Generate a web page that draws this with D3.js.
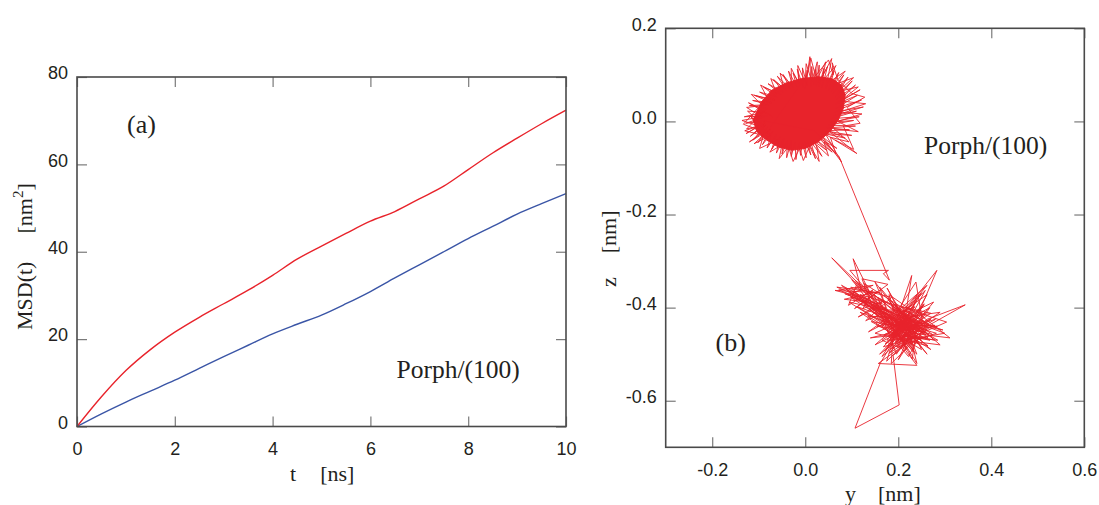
<!DOCTYPE html>
<html><head><meta charset="utf-8">
<script src="https://cdn.jsdelivr.net/npm/d3@7"></script>
<style>
html,body{margin:0;padding:0;background:#fff;}
svg{display:block;}
.tick text{font-family:"Liberation Sans",Arial,sans-serif;font-size:18px;fill:#231f20;}
.serif{font-family:"Liberation Serif","Times New Roman",serif;fill:#231f20;}
</style></head>
<body>
<script>
// ---------- Panel (a) data ----------
const timeNs = [0,0.5,1,1.5,2,2.5,3,3.5,4,4.5,5,5.5,6,6.5,7,7.5,8,8.5,9,9.5,10];
const msdRed = [0,6.8,12.8,17.6,21.6,25.0,28.1,31.2,34.6,38.3,41.3,44.2,47.0,49.2,52.1,55.0,58.8,62.6,66.0,69.3,72.4];
const msdBlue = [0,2.9,5.6,8.1,10.6,13.3,16.0,18.6,21.2,23.4,25.5,28.1,30.9,34.0,37.0,40.0,43.0,45.8,48.6,51.0,53.3];
const xTicksA = [0,2,4,6,8,10];
const yTicksA = [0,20,40,60,80];

// ---------- Panel (b) data ----------
const xTicksB = [-0.2,0.0,0.2,0.4,0.6];
const yTicksB = [0.2,0.0,-0.2,-0.4,-0.6];
// dense core of the first site (outline of the saturated region)
const site1Core = [[-0.112,0.003],[-0.094,0.042],[-0.072,0.067],[-0.043,0.082],[-0.008,0.092],[0.028,0.096],[0.057,0.092],[0.078,0.078],[0.086,0.057],[0.082,0.028],[0.071,0.003],[0.053,-0.022],[0.028,-0.044],[0.000,-0.058],[-0.029,-0.062],[-0.058,-0.055],[-0.083,-0.040],[-0.104,-0.022]];
// trajectory around first site
const site1Path = [[-0.085,0.002],[-0.128,-0.004],[-0.080,0.012],[-0.131,0.010],[-0.088,0.020],[-0.124,0.022],[-0.090,-0.008],[-0.126,-0.016],[-0.082,0.028],[-0.120,0.034],[-0.078,0.036],[-0.113,0.045],[-0.072,0.040],[-0.109,0.056],[-0.066,0.046],[-0.098,0.063],[-0.060,0.052],[-0.090,0.074],[-0.052,0.058],[-0.080,0.081],[-0.046,0.062],[-0.068,0.090],[-0.040,0.066],[-0.060,0.097],[-0.032,0.070],[-0.048,0.101],[-0.026,0.072],[-0.036,0.108],[-0.018,0.074],[-0.026,0.104],[-0.010,0.076],[-0.017,0.112],[-0.004,0.072],[-0.006,0.115],[0.004,0.078],[0.004,0.110],[0.000,0.070],[0.010,0.139],[0.012,0.074],[0.014,0.118],[0.018,0.078],[0.022,0.112],[0.024,0.074],[0.030,0.121],[0.030,0.076],[0.040,0.114],[0.036,0.072],[0.048,0.118],[0.028,0.080],[0.057,0.135],[0.044,0.070],[0.062,0.108],[0.050,0.066],[0.072,0.105],[0.056,0.064],[0.083,0.100],[0.060,0.060],[0.092,0.095],[0.064,0.052],[0.101,0.087],[0.066,0.046],[0.108,0.078],[0.068,0.040],[0.118,0.068],[0.064,0.036],[0.112,0.056],[0.066,0.028],[0.121,0.046],[0.062,0.020],[0.125,0.031],[0.060,0.012],[0.110,0.022],[0.056,0.006],[0.116,0.010],[0.054,-0.002],[0.104,0.002],[0.050,-0.008],[0.108,-0.010],[0.046,-0.014],[0.095,-0.018],[0.042,-0.020],[0.100,-0.030],[0.040,-0.026],[0.086,-0.036],[0.050,-0.020],[0.111,-0.069],[0.044,-0.028],[0.078,-0.087],[0.036,-0.032],[0.068,-0.058],[0.030,-0.036],[0.058,-0.066],[0.024,-0.040],[0.046,-0.062],[0.018,-0.042],[0.036,-0.075],[0.012,-0.044],[0.022,-0.080],[0.006,-0.046],[0.012,-0.072],[0.000,-0.044],[0.002,-0.078],[-0.006,-0.046],[-0.010,-0.073],[-0.014,-0.046],[-0.020,-0.082],[-0.022,-0.044],[-0.030,-0.075],[-0.030,-0.042],[-0.040,-0.078],[-0.038,-0.040],[-0.050,-0.070],[-0.046,-0.036],[-0.062,-0.068],[-0.054,-0.032],[-0.072,-0.060],[-0.062,-0.028],[-0.082,-0.057],[-0.070,-0.022],[-0.092,-0.050],[-0.076,-0.018],[-0.102,-0.046],[-0.082,-0.012],[-0.112,-0.040],[-0.086,-0.008],[-0.118,-0.032],[-0.088,-0.004],[-0.127,-0.026],[-0.084,0.000],[0.020,-0.020],[0.073,-0.076]];
// further excursions at the rim of the first site
const site1Fringe = [[-0.070,0.010],[-0.122,0.040],[-0.100,0.030],[-0.133,-0.006],[-0.096,-0.020],[-0.118,0.012],[-0.074,-0.030],[-0.110,-0.048],[-0.090,-0.030],[-0.098,-0.058],[-0.060,-0.040],[-0.076,-0.066],[-0.050,-0.050],[-0.056,-0.080],[-0.036,-0.054],[-0.026,-0.086],[-0.012,-0.058],[-0.004,-0.084],[0.010,-0.052],[0.030,-0.086],[0.024,-0.050],[0.050,-0.074],[0.040,-0.044],[0.066,-0.070],[0.054,-0.034],[0.094,-0.044],[0.062,-0.016],[0.114,-0.022],[0.070,0.000],[0.122,0.016],[0.074,0.020],[0.130,0.038],[0.076,0.044],[0.114,0.074],[0.070,0.064],[0.104,0.094],[0.060,0.078],[0.086,0.108],[0.048,0.082],[0.066,0.120],[0.036,0.086],[0.044,0.128],[0.024,0.088],[0.026,0.128],[0.014,0.086],[0.002,0.124],[0.000,0.084],[-0.016,0.120],[-0.014,0.082],[-0.030,0.114],[-0.030,0.078],[-0.054,0.104],[-0.046,0.072],[-0.074,0.092],[-0.062,0.060],[-0.096,0.078],[-0.080,0.048],[-0.116,0.058],[-0.092,0.034],[-0.126,0.030],[-0.094,0.010],[-0.136,0.002],[-0.100,-0.010],[-0.130,-0.020],[-0.098,-0.028],[-0.120,-0.044],[-0.080,-0.020],[0.004,0.100],[0.012,0.136],[0.022,0.098],[0.050,0.132],[0.060,0.100],[0.058,0.126],[0.070,0.090],[0.100,0.060],[0.128,0.052],[0.090,0.030],[0.118,-0.004],[0.082,-0.010],[0.104,-0.060],[0.064,-0.040]];
// trajectory around second site (including the jump from the first)
const site2Path = [[0.181,-0.341],[0.168,-0.327],[0.179,-0.320],[0.096,-0.320],[0.140,-0.372],[0.057,-0.293],[0.120,-0.360],[0.103,-0.295],[0.150,-0.390],[0.068,-0.356],[0.160,-0.368],[0.064,-0.363],[0.130,-0.380],[0.175,-0.405],[0.110,-0.352],[0.093,-0.395],[0.145,-0.362],[0.124,-0.402],[0.170,-0.385],[0.114,-0.420],[0.158,-0.398],[0.085,-0.370],[0.190,-0.412],[0.136,-0.452],[0.178,-0.430],[0.098,-0.378],[0.205,-0.418],[0.150,-0.345],[0.192,-0.440],[0.229,-0.331],[0.210,-0.452],[0.258,-0.363],[0.200,-0.425],[0.283,-0.320],[0.236,-0.430],[0.185,-0.395],[0.248,-0.448],[0.344,-0.394],[0.262,-0.425],[0.215,-0.470],[0.304,-0.431],[0.240,-0.410],[0.311,-0.465],[0.230,-0.455],[0.279,-0.438],[0.205,-0.440],[0.268,-0.470],[0.188,-0.455],[0.240,-0.524],[0.157,-0.520],[0.220,-0.475],[0.189,-0.503],[0.202,-0.609],[0.107,-0.659],[0.161,-0.520],[0.196,-0.462],[0.255,-0.395],[0.172,-0.478],[0.270,-0.412],[0.208,-0.398],[0.250,-0.490],[0.165,-0.440],[0.262,-0.372],[0.198,-0.485],[0.282,-0.455],[0.222,-0.438],[0.176,-0.358],[0.234,-0.468],[0.145,-0.410],[0.218,-0.420],[0.290,-0.410],[0.200,-0.470],[0.155,-0.378],[0.245,-0.430],[0.180,-0.498],[0.272,-0.440],[0.212,-0.405],[0.232,-0.495],[0.168,-0.418],[0.260,-0.458],[0.128,-0.392],[0.226,-0.448],[0.276,-0.388],[0.190,-0.430],[0.240,-0.372],[0.207,-0.488],[0.165,-0.470],[0.252,-0.412],[0.118,-0.372],[0.215,-0.432],[0.296,-0.448],[0.184,-0.410],[0.228,-0.478],[0.142,-0.430],[0.236,-0.445],[0.268,-0.400],[0.176,-0.450],[0.222,-0.505],[0.258,-0.438],[0.196,-0.418],[0.285,-0.470],[0.210,-0.462],[0.160,-0.392],[0.244,-0.458],[0.102,-0.365],[0.188,-0.440],[0.232,-0.418],[0.150,-0.455],[0.264,-0.482],[0.200,-0.435],[0.240,-0.385],[0.172,-0.492],[0.214,-0.445],[0.280,-0.425],[0.194,-0.475],[0.226,-0.408],[0.136,-0.402],[0.206,-0.452],[0.250,-0.470],[0.184,-0.422],[0.220,-0.460],[0.178,-0.380],[0.236,-0.435],[0.200,-0.512],[0.246,-0.442],[0.212,-0.415],[0.190,-0.465],[0.230,-0.428],[0.208,-0.440],[0.120,-0.385],[0.226,-0.462],[0.088,-0.360],[0.198,-0.428],[0.142,-0.395],[0.252,-0.452],[0.108,-0.342],[0.214,-0.478],[0.132,-0.366],[0.238,-0.420],[0.094,-0.388],[0.186,-0.446],[0.160,-0.356],[0.222,-0.430],[0.078,-0.352],[0.204,-0.458],[0.152,-0.418],[0.266,-0.436],[0.126,-0.348],[0.218,-0.490],[0.170,-0.400],[0.244,-0.478],[0.112,-0.398],[0.230,-0.440],[0.148,-0.372],[0.196,-0.500],[0.258,-0.410],[0.182,-0.468],[0.236,-0.398],[0.164,-0.428],[0.274,-0.458],[0.206,-0.412],[0.240,-0.500],[0.174,-0.436],[0.284,-0.440],[0.216,-0.448],[0.192,-0.392],[0.250,-0.462],[0.168,-0.484],[0.228,-0.424],[0.134,-0.418],[0.218,-0.468],[0.270,-0.425],[0.200,-0.448],[0.180,-0.372],[0.246,-0.418],[0.186,-0.488],[0.262,-0.448],[0.210,-0.428],[0.154,-0.440],[0.234,-0.452],[0.118,-0.410],[0.206,-0.470],[0.256,-0.392],[0.194,-0.452],[0.224,-0.415],[0.176,-0.470],[0.242,-0.465],[0.202,-0.405],[0.278,-0.470],[0.212,-0.455],[0.162,-0.405],[0.230,-0.488],[0.196,-0.435],[0.254,-0.428],[0.184,-0.458],[0.220,-0.440],[0.240,-0.455],[0.204,-0.425],[0.226,-0.470],[0.190,-0.420],[0.214,-0.462],[0.232,-0.438],[0.198,-0.472],[0.246,-0.432],[0.188,-0.402],[0.264,-0.465],[0.170,-0.458],[0.216,-0.436],[0.092,-0.372],[0.146,-0.352],[0.072,-0.362],[0.138,-0.388],[0.100,-0.340],[0.166,-0.392],[0.084,-0.382],[0.156,-0.366],[0.106,-0.402],[0.178,-0.350],[0.122,-0.338],[0.148,-0.408],[0.098,-0.356],[0.186,-0.378],[0.130,-0.428],[0.172,-0.410],[0.210,-0.446],[0.160,-0.500],[0.224,-0.452],[0.240,-0.520],[0.196,-0.448],[0.175,-0.515],[0.230,-0.462],[0.262,-0.500],[0.208,-0.430],[0.150,-0.480],[0.220,-0.445],[0.270,-0.490],[0.190,-0.438],[0.185,-0.520],[0.236,-0.470],[0.230,-0.510],[0.202,-0.458],[0.140,-0.465],[0.244,-0.440],[0.290,-0.480],[0.212,-0.470],[0.300,-0.455],[0.218,-0.425],[0.165,-0.505],[0.252,-0.430],[0.238,-0.345],[0.196,-0.410],[0.262,-0.352],[0.222,-0.400],[0.250,-0.368],[0.206,-0.438]];

const RED = "#e8232b", BLUE = "#3a55a6", FRAME = "#4a4a4a", TICK = "#7a7a7a";

const svg = d3.select("body").append("svg").attr("width",1099).attr("height",505);

function frameAxes(g, x, y, xt, yt, xfmt, yfmt){
  const [x0,x1] = x.range(), [y0,y1] = y.range();
  const bottom = g.append("g").attr("transform",`translate(0,${y0})`)
    .call(d3.axisBottom(x).tickValues(xt).tickSizeInner(-10).tickSizeOuter(0).tickPadding(16).tickFormat(xfmt));
  const top = g.append("g").attr("transform",`translate(0,${y1})`)
    .call(d3.axisTop(x).tickValues(xt).tickSizeInner(-10).tickSizeOuter(0).tickFormat(""));
  const left = g.append("g").attr("transform",`translate(${x0},0)`)
    .call(d3.axisLeft(y).tickValues(yt).tickSizeInner(-10).tickSizeOuter(0).tickPadding(9).tickFormat(yfmt));
  const right = g.append("g").attr("transform",`translate(${x1},0)`)
    .call(d3.axisRight(y).tickValues(yt).tickSizeInner(-10).tickSizeOuter(0).tickFormat(""));
  [bottom,top,left,right].forEach(a=>{
    a.select(".domain").remove();
    a.selectAll(".tick line").attr("stroke",TICK).attr("stroke-width",1.2);
  });
  left.selectAll(".tick text").attr("dy","0.1em");
  g.append("rect").attr("x",x0).attr("y",y1).attr("width",x1-x0).attr("height",y0-y1)
    .attr("fill","none").attr("stroke",FRAME).attr("stroke-width",1.6);
}

// ---------- Panel (a) ----------
const xA = d3.scaleLinear().domain([0,10]).range([77,566]);
const yA = d3.scaleLinear().domain([0,80]).range([426.5,77]);
const gA = svg.append("g");
const lineA = (vals)=> d3.line().x((d,i)=>xA(timeNs[i])).y(d=>yA(d)).curve(d3.curveMonotoneX)(vals);
gA.append("path").attr("d",lineA(msdBlue)).attr("fill","none").attr("stroke",BLUE).attr("stroke-width",1.4);
gA.append("path").attr("d",lineA(msdRed)).attr("fill","none").attr("stroke",RED).attr("stroke-width",1.4);
frameAxes(gA,xA,yA,xTicksA,yTicksA,d3.format("d"),d3.format("d"));

gA.append("text").attr("class","serif").attr("x",127).attr("y",133).attr("font-size",26).text("(a)");
gA.append("text").attr("class","serif").attr("x",396.5).attr("y",378).attr("font-size",25.5).text("Porph/(100)");
const yl = gA.append("text").attr("class","serif").attr("font-size",22)
  .attr("transform","translate(31.5,330) rotate(-90)");
yl.append("tspan").text("MSD(t)");
yl.append("tspan").attr("dx",28).text("[nm");
yl.append("tspan").attr("font-size",15).attr("dy",-9).text("2");
yl.append("tspan").attr("dy",9).text("]");
const xl = gA.append("text").attr("class","serif").attr("font-size",22).attr("x",290).attr("y",481);
xl.append("tspan").text("t");
xl.append("tspan").attr("dx",24).text("[ns]");

// ---------- Panel (b) ----------
const xB = d3.scaleLinear().domain([-0.3,0.6]).range([665.7,1084.3]);
const yB = d3.scaleLinear().domain([-0.7,0.2]).range([447.3,28.3]);
const gB = svg.append("g");
const lineB = d3.line().x(d=>xB(d[0])).y(d=>yB(d[1]));
gB.append("path").attr("d",lineB(site1Core)+"Z").attr("fill",RED).attr("stroke",RED).attr("stroke-width",1);
gB.append("path").attr("d",lineB(site1Fringe)).attr("fill","none")
  .attr("stroke",RED).attr("stroke-width",0.9);
gB.append("path").attr("d",lineB(site1Path.concat(site2Path))).attr("fill","none")
  .attr("stroke",RED).attr("stroke-width",0.9).attr("stroke-linejoin","miter");
frameAxes(gB,xB,yB,xTicksB,yTicksB,d3.format(".1f"),d3.format(".1f"));
gB.selectAll(".tick text").text(function(){return this.textContent.replace("−","-");});

gB.append("text").attr("class","serif").attr("x",924).attr("y",153.5).attr("font-size",25.5).text("Porph/(100)");
gB.append("text").attr("class","serif").attr("x",715.5).attr("y",351).attr("font-size",26).text("(b)");
const zl = gB.append("text").attr("class","serif").attr("font-size",22)
  .attr("transform","translate(615.5,287) rotate(-90)");
zl.append("tspan").text("z");
zl.append("tspan").attr("dx",24).text("[nm]");
const bl = gB.append("text").attr("class","serif").attr("font-size",22).attr("x",845).attr("y",501);
bl.append("tspan").text("y");
bl.append("tspan").attr("dx",22).text("[nm]");
</script>
</body></html>
